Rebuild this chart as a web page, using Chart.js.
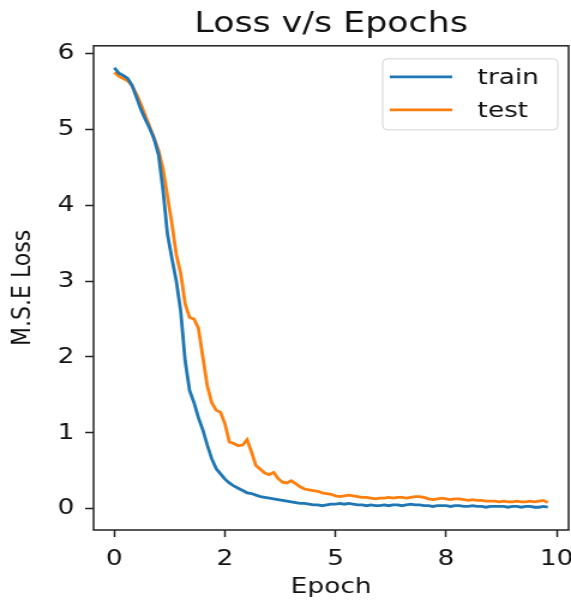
<!DOCTYPE html>
<html>
<head>
<meta charset="utf-8">
<script src="https://cdn.jsdelivr.net/npm/chart.js@4.4.0/dist/chart.umd.min.js"></script>
<style>
  html, body { margin: 0; padding: 0; background: #fff; overflow: hidden; }
  /* la imagen original esta estirada en horizontal ~1.2 */
  #wrap { width: 476px; height: 601px; transform: scaleX(1.1996); transform-origin: 0 0; }
</style>
</head>
<body>
<div id="wrap"><canvas id="grafico"></canvas></div>
<script>
// Epocas (0 a 9.8 cada 0.1) y perdidas
const epocas = [
  0.0, 0.1, 0.2, 0.3, 0.4, 0.5, 0.6, 0.7, 0.8, 0.9,
  1.0, 1.1, 1.2, 1.3, 1.4, 1.5, 1.6, 1.7, 1.8, 1.9,
  2.0, 2.1, 2.2, 2.3, 2.4, 2.5, 2.6, 2.7, 2.8, 2.9,
  3.0, 3.1, 3.2, 3.3, 3.4, 3.5, 3.6, 3.7, 3.8, 3.9,
  4.0, 4.1, 4.2, 4.3, 4.4, 4.5, 4.6, 4.7, 4.8, 4.9,
  5.0, 5.1, 5.2, 5.3, 5.4, 5.5, 5.6, 5.7, 5.8, 5.9,
  6.0, 6.1, 6.2, 6.3, 6.4, 6.5, 6.6, 6.7, 6.8, 6.9,
  7.0, 7.1, 7.2, 7.3, 7.4, 7.5, 7.6, 7.7, 7.8, 7.9,
  8.0, 8.1, 8.2, 8.3, 8.4, 8.5, 8.6, 8.7, 8.8, 8.9,
  9.0, 9.1, 9.2, 9.3, 9.4, 9.5, 9.6, 9.7, 9.8
];

const perdidaTrain = [
  5.81, 5.74, 5.71, 5.67, 5.58, 5.42, 5.26, 5.13, 5.01, 4.87,
  4.66, 4.20, 3.62, 3.30, 3.00, 2.60, 1.95, 1.56, 1.40, 1.20,
  1.04, 0.84, 0.66, 0.53, 0.46, 0.39, 0.34, 0.30, 0.27, 0.24,
  0.21, 0.20, 0.18, 0.16, 0.15, 0.14, 0.13, 0.12, 0.11, 0.10,
  0.09, 0.08, 0.07, 0.07, 0.06, 0.05, 0.05, 0.04, 0.05, 0.06,
  0.06, 0.07, 0.06, 0.07, 0.06, 0.05, 0.05, 0.04, 0.05, 0.04,
  0.04, 0.05, 0.04, 0.05, 0.05, 0.04, 0.05, 0.06, 0.05, 0.05,
  0.04, 0.04, 0.03, 0.04, 0.04, 0.04, 0.03, 0.04, 0.04, 0.03,
  0.03, 0.04, 0.03, 0.03, 0.02, 0.03, 0.03, 0.03, 0.03, 0.02,
  0.03, 0.03, 0.02, 0.03, 0.03, 0.02, 0.02, 0.03, 0.02
];

const perdidaTest = [
  5.75, 5.70, 5.67, 5.64, 5.57, 5.46, 5.33, 5.18, 5.03, 4.88,
  4.72, 4.48, 4.12, 3.76, 3.35, 3.10, 2.70, 2.52, 2.50, 2.38,
  2.00, 1.62, 1.40, 1.30, 1.27, 1.12, 0.88, 0.86, 0.83, 0.84,
  0.91, 0.75, 0.57, 0.52, 0.47, 0.45, 0.48, 0.40, 0.35, 0.34,
  0.37, 0.33, 0.29, 0.26, 0.25, 0.24, 0.23, 0.21, 0.20, 0.19,
  0.17, 0.16, 0.17, 0.18, 0.17, 0.16, 0.15, 0.15, 0.14, 0.13,
  0.14, 0.14, 0.15, 0.14, 0.15, 0.15, 0.14, 0.15, 0.16, 0.16,
  0.15, 0.13, 0.12, 0.13, 0.14, 0.13, 0.12, 0.13, 0.13, 0.12,
  0.11, 0.12, 0.11, 0.11, 0.10, 0.10, 0.10, 0.09, 0.10, 0.09,
  0.09, 0.10, 0.09, 0.09, 0.10, 0.09, 0.10, 0.11, 0.08
];

// ticks del eje x como los dejo matplotlib (2.5 -> "2", 7.5 -> "8")
const xTicks = [0, 2.5, 5, 7.5, 10];
const xTickLabels = ['0', '2', '5', '8', '10'];
const yTicks = [0, 1, 2, 3, 4, 5, 6];

const colorTexto = '#111';
const fuente = 'DejaVu Sans';

// marco negro alrededor del area de trazado
const marco = {
  id: 'marco',
  afterDraw(chart) {
    const { ctx, chartArea: a } = chart;
    ctx.save();
    ctx.strokeStyle = '#222';
    ctx.lineWidth = 1.5;
    ctx.strokeRect(a.left, a.top, a.right - a.left, a.bottom - a.top);
    ctx.restore();
  }
};

// leyenda dentro del grafico, arriba a la derecha
const leyenda = {
  id: 'leyenda',
  afterDraw(chart) {
    const { ctx, chartArea: a } = chart;
    const ancho = 146, alto = 71;
    const x0 = a.right - 9 - ancho;
    const y0 = a.top + 13;
    ctx.save();
    ctx.beginPath();
    ctx.roundRect(x0, y0, ancho, alto, 4);
    ctx.fillStyle = 'rgba(255,255,255,0.8)';
    ctx.fill();
    ctx.strokeStyle = '#d4d4d4';
    ctx.lineWidth = 1;
    ctx.stroke();
    chart.data.datasets.forEach((ds, i) => {
      const y = y0 + 18 + i * 33;
      ctx.strokeStyle = ds.borderColor;
      ctx.lineWidth = 2.8;
      ctx.beginPath();
      ctx.moveTo(x0 + 6, y);
      ctx.lineTo(x0 + 58, y);
      ctx.stroke();
      ctx.fillStyle = colorTexto;
      ctx.font = `22px "${fuente}"`;
      ctx.textBaseline = 'middle';
      ctx.textAlign = 'left';
      ctx.fillText(ds.label, x0 + 79, y + 1);
    });
    ctx.restore();
  }
};

const puntos = (serie) => epocas.map((x, i) => ({ x: x, y: serie[i] }));

Chart.defaults.font.family = fuente;
Chart.defaults.color = colorTexto;

const ejeComun = {
  grid: { display: true, drawOnChartArea: false, drawTicks: true, tickLength: 7, tickColor: '#222', tickWidth: 1.5 },
  border: { display: false }
};

new Chart(document.getElementById('grafico'), {
  type: 'line',
  data: {
    datasets: [
      { label: 'train', data: puntos(perdidaTrain), borderColor: '#1f77b4', borderWidth: 2.8, pointRadius: 0, tension: 0, fill: false },
      { label: 'test', data: puntos(perdidaTest), borderColor: '#ff7f0e', borderWidth: 2.8, pointRadius: 0, tension: 0, fill: false }
    ]
  },
  options: {
    responsive: true,
    maintainAspectRatio: false,
    animation: false,
    layout: { padding: { left: 0, right: 2, top: 0, bottom: 0 } },
    plugins: {
      legend: { display: false },
      tooltip: { enabled: false },
      title: {
        display: true,
        text: 'Loss v/s Epochs',
        fullSize: false,
        color: colorTexto,
        font: { size: 29, weight: 'normal' },
        padding: { top: 7, bottom: 4 }
      }
    },
    scales: {
      x: Object.assign({}, ejeComun, {
        type: 'linear',
        min: -0.47,
        max: 10.27,
        afterBuildTicks: (s) => { s.ticks = xTicks.map(v => ({ value: v })); },
        afterFit: (s) => { s.height = 71; s.paddingLeft = 0; s.paddingRight = 0; },
        ticks: {
          font: { size: 22 },
          padding: 9,
          maxRotation: 0,
          callback: (v, i) => xTickLabels[i]
        },
        title: { display: true, text: 'Epoch', font: { size: 22 }, padding: { top: 0, bottom: 1 } }
      }),
      y: Object.assign({}, ejeComun, {
        type: 'linear',
        min: -0.28,
        max: 6.1,
        afterBuildTicks: (s) => { s.ticks = yTicks.map(v => ({ value: v })); },
        afterFit: (s) => { s.width = 78; s.paddingTop = 0; s.paddingBottom = 0; },
        ticks: { font: { size: 22 }, padding: 9, callback: (v) => String(v) },
        title: { display: true, text: 'M.S.E Loss', font: { size: 22 }, padding: { top: 6, bottom: 0 } }
      })
    }
  },
  plugins: [marco, leyenda]
});
</script>
</body>
</html>
